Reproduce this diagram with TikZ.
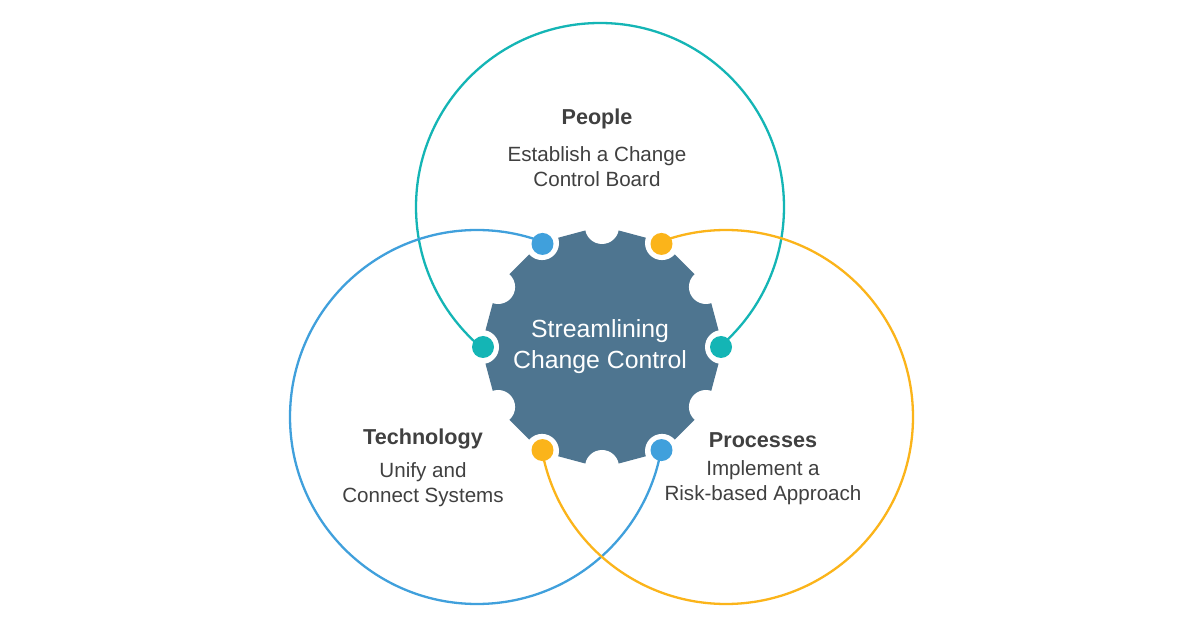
\documentclass[tikz,border=0pt]{standalone}
\usepackage{fontspec}
\setmainfont{Liberation Sans}
\usetikzlibrary{calc}
\definecolor{gearc}{HTML}{4E7590}
\definecolor{cTeal}{HTML}{14B5B5}
\definecolor{cBlue}{HTML}{40A0DC}
\definecolor{cGold}{HTML}{FBB41A}
\definecolor{txt}{HTML}{404040}
\tikzset{
  notch/.style={circle, fill=white, inner sep=0pt, minimum size=17pt},
  dot/.style={circle, fill=#1, inner sep=0pt, minimum size=11pt},
  title/.style={font=\fontsize{10.8}{13}\selectfont\bfseries, text=txt},
  body/.style={font=\fontsize{10.3}{12.5}\selectfont, text=txt, align=center},
  hub/.style={font=\fontsize{12.4}{15.5}\selectfont, text=white, align=center}
}
\begin{document}
\begin{tikzpicture}[x=0.5pt,y=-0.5pt]
\useasboundingbox (0,0) rectangle (1200,630);
\fill[white] (0,0) rectangle (1200,630);
\coordinate (G) at (602,347);
\coordinate (cP) at (600,207);
\coordinate (cT) at (477,417);
\coordinate (cR) at (726,417);
% gear body
\fill[gearc, shift={(602,347)}] (0:121) \foreach \a in {30,60,...,330}{ -- (\a:121)} -- cycle;
% notches
\foreach \a in {0,30,...,330}
  \node[notch] (n\a) at ([shift={(G)}]\a:120) {};
% rings outside the hub
\begin{scope}[even odd rule]
  \clip (-10,-10) rectangle (1210,640) (G) circle (119);
  \draw[cTeal, line width=1.15pt] (cP) circle (184);
  \draw[cBlue, line width=1.15pt] (cT) circle (187);
  \draw[cGold, line width=1.15pt] (cR) circle (187);
\end{scope}
% dots
\node[dot=cTeal] (dR) at ([shift={(G)}]0:119) {};
\node[dot=cBlue] (dBR) at ([shift={(G)}]60:119) {};
\node[dot=cGold] (dBL) at ([shift={(G)}]120:119) {};
\node[dot=cTeal] (dL) at ([shift={(G)}]180:119) {};
\node[dot=cBlue] (dTL) at ([shift={(G)}]240:119) {};
\node[dot=cGold] (dTR) at ([shift={(G)}]300:119) {};
% texts
\node[hub] (hubtxt) at (600,347) {Streamlining\\Change Control};
\node[title] (tP) at (597,119) {People};
\node[body] (bP) at (597,167) {Establish a Change\\Control Board};
\node[title] (tT) at (423,439) {Technology};
\node[body] (bT) at (423,485) {Unify and\\Connect Systems};
\node[title] (tR) at (763,440) {Processes};
\node[body] (bR) at (763,483) {Implement a\\Risk-based Approach};
\end{tikzpicture}
\end{document}
